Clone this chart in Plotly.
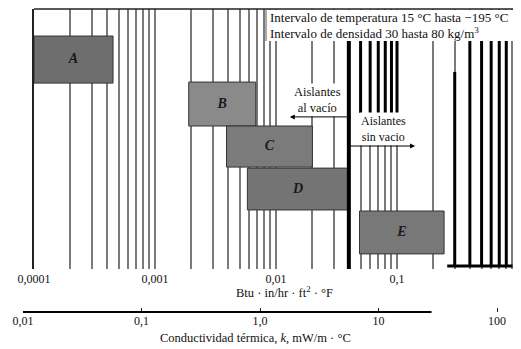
import numpy as np
import plotly.graph_objects as go

# ---------------- data ----------------
# main axis: Btu·in/hr·ft²·°F (log)
decade_vals = [0.0001, 0.001, 0.01, 0.1, 1.0]
decade_labels = ["0,0001", "0,001", "0,01", "0,1", "1,0"]
minor_mult = [2, 3, 4, 5, 6, 7, 8, 9]

# secondary axis: mW/m·°C (log)
k_ticks = [0.01, 0.1, 1.0, 10.0, 100.0]
k_labels = ["0,01", "0,1", "1,0", "10", "100"]
k_axis_range = [-2.0084, 2.177]      # log10 of mW/m·°C at the axis ends
k_line_span = [0.01, 28.0]

# insulation classes (Btu·in/hr·ft²·°F ranges, relative vertical placement)
box_names = ["A", "B", "C", "D", "E"]
box_lo = [0.0001, 0.0019, 0.0039, 0.0058, 0.049]
box_hi = [0.00045, 0.0068, 0.020, 0.040, 0.245]
box_bottom = [0.715, 0.550, 0.392, 0.227, 0.058]
box_top = [0.896, 0.719, 0.550, 0.388, 0.223]
box_fill = ["#6e6e6e", "#8a8a8a", "#7b7b7b", "#747474", "#787878"]

# heavy lines
divider_k = 0.04
divider_span = [0.0, 0.88]
nonvac_k = [0.05, 0.06, 0.07, 0.08, 0.09, 0.1]
nonvac_span = [0.60, 0.88]
dense_k = [0.3, 0.4, 0.5, 0.6, 0.7, 0.8]
dense_top = [0.758, 0.88, 0.88, 0.88, 0.88, 0.88]
dense_base = 0.0115
base_k = [0.26, 0.9]

# arrows
vac_arrow = dict(tail=0.04, tip=0.013, y=0.585)
nonvac_arrow = dict(tail=0.04, tip=0.141, y=0.473)

FONT = "Liberation Serif"

# ---------------- layout geometry ----------------
# the page body has an 8px margin, so the figure is offset by 8px
OFF = 8
W, H = 521 - OFF, 349 - OFF
ML, MR, MT, MB = 6, 3, 1, 37
PW = W - ML - MR
PH = H - MT - MB


def px_x(p):  # reference-pixel x -> paper fraction
    return (p - OFF - ML) / PW


def px_y(p):  # reference-pixel y -> paper fraction
    return (H - MB - (p - OFF)) / PH


# gridline ticks
grid_vals, grid_text = [], []
for d, lab in zip(decade_vals[:-1], decade_labels[:-1]):
    grid_vals.append(d)
    grid_text.append(lab)
    for m in minor_mult:
        grid_vals.append(d * m)
        grid_text.append("")
grid_vals.append(decade_vals[-1])
grid_text.append(decade_labels[-1])

fig = go.Figure()

# boxes
for name, lo, hi, b, t, c in zip(box_names, box_lo, box_hi, box_bottom, box_top, box_fill):
    fig.add_trace(go.Scatter(
        x=[lo, hi, hi, lo, lo], y=[b, b, t, t, b], mode="lines",
        fill="toself", fillcolor=c, line=dict(color="#333333", width=1),
        hoverinfo="skip", showlegend=False))

fig.add_trace(go.Scatter(
    x=[float(np.sqrt(lo * hi)) for lo, hi in zip(box_lo, box_hi)],
    y=[(b + t) / 2 for b, t in zip(box_bottom, box_top)],
    mode="text", text=["<b><i>%s</i></b>" % n for n in box_names],
    textfont=dict(family=FONT, size=14, color="#1a1a1a"),
    hoverinfo="skip", showlegend=False))

# heavy lines
hx, hy = [], []
for k in nonvac_k:
    hx += [k, k, None]
    hy += [nonvac_span[0], nonvac_span[1], None]
for k, t in zip(dense_k, dense_top):
    hx += [k, k, None]
    hy += [dense_base, t, None]
hx += [base_k[0], base_k[1], None]
hy += [dense_base, dense_base, None]
fig.add_trace(go.Scatter(x=hx, y=hy, mode="lines", line=dict(color="black", width=3),
                         hoverinfo="skip", showlegend=False))
fig.add_trace(go.Scatter(x=[divider_k, divider_k], y=divider_span, mode="lines",
                         line=dict(color="black", width=4), hoverinfo="skip", showlegend=False))

annotations = [
    dict(xref="paper", yref="paper", x=px_x(268), y=px_y(17.5), xanchor="left", yanchor="middle",
         text="Intervalo de temperatura 15 °C hasta −195 °C",
         showarrow=False, font=dict(family=FONT, size=13, color="#111")),
    dict(xref="paper", yref="paper", x=px_x(268), y=px_y(32.5), xanchor="left", yanchor="middle",
         text="Intervalo de densidad 30 hasta 80 kg/m<sup>3</sup>",
         showarrow=False, font=dict(family=FONT, size=13, color="#111")),
    dict(xref="x", yref="y", x=float(np.log10(0.0222)), y=0.65, text="Aislantes<br>al vacío",
         xanchor="center", yanchor="middle",
         showarrow=False, bgcolor="white", font=dict(family=FONT, size=12.5, color="#111")),
    dict(xref="x", yref="y", x=float(np.log10(0.078)), y=0.538, text="Aislantes<br>sin vacio",
         xanchor="center", yanchor="middle",
         showarrow=False, bgcolor="white", font=dict(family=FONT, size=12, color="#111")),
    dict(xref="paper", yref="paper", x=px_x(284), y=px_y(292), xanchor="center", yanchor="middle",
         text="Btu · in/hr · ft<sup>2</sup> · °F", showarrow=False,
         font=dict(family=FONT, size=12.5, color="#111")),
    dict(xref="paper", yref="paper", x=px_x(255), y=px_y(338), xanchor="center", yanchor="middle",
         text="Conductividad térmica, <i>k</i>, mW/m · °C", showarrow=False,
         font=dict(family=FONT, size=12.5, color="#111")),
]
for a in (vac_arrow, nonvac_arrow):
    annotations.append(dict(xref="x", yref="y", axref="x", ayref="y",
                            x=float(np.log10(a["tip"])), y=a["y"],
                            ax=float(np.log10(a["tail"])), ay=a["y"],
                            text="", showarrow=True, arrowhead=2, arrowsize=1, arrowwidth=1,
                            arrowcolor="black"))

shapes = [
    # white panel behind the temperature/density note
    dict(type="rect", xref="paper", yref="paper", x0=px_x(266), x1=px_x(518),
         y0=px_y(41), y1=px_y(10), fillcolor="white", line=dict(width=0),
         layer="above"),
    dict(type="line", xref="paper", yref="paper", x0=px_x(266), x1=px_x(266),
         y0=px_y(41), y1=px_y(10), line=dict(color="#555", width=1), layer="above"),
    dict(type="line", xref="paper", yref="paper", x0=px_x(34), x1=1, y0=1, y1=1,
         line=dict(color="#222", width=1.5)),
    dict(type="line", xref="x2", yref="paper", x0=k_line_span[0], x1=k_line_span[1], y0=0, y1=0,
         line=dict(color="black", width=2)),
]

fig.update_layout(
    width=W, height=H,
    margin=dict(l=ML, r=MR, t=MT, b=MB, pad=0, autoexpand=False),
    paper_bgcolor="white", plot_bgcolor="rgba(0,0,0,0)",
    showlegend=False,
    font=dict(family=FONT, color="#111"),
    xaxis=dict(type="log", range=[-4, 0], domain=[px_x(34), 1], anchor="y",
               tickmode="array", tickvals=grid_vals, ticktext=grid_text,
               showgrid=True, gridcolor="#7a7a7a", gridwidth=1.5, ticks="",
               ticklabelstandoff=1,
               zeroline=False, showline=False, automargin=False,
               tickfont=dict(family=FONT, size=12, color="#111")),
    xaxis2=dict(type="log", range=k_axis_range, domain=[px_x(22), 1], anchor="free", position=0,
                tickmode="array", tickvals=k_ticks, ticktext=k_labels,
                ticks="inside", ticklen=4, tickwidth=1, tickcolor="#222",
                showgrid=False, zeroline=False, showline=False, automargin=False,
                tickfont=dict(family=FONT, size=12, color="#111")),
    yaxis=dict(range=[0, 1], domain=[px_y(269), 1], showgrid=False, zeroline=False,
               showticklabels=False, ticks="", showline=True, mirror=True,
               linecolor="#222", linewidth=1.5, automargin=False),
    annotations=annotations,
    shapes=shapes,
)

fig.write_html("out.html")
